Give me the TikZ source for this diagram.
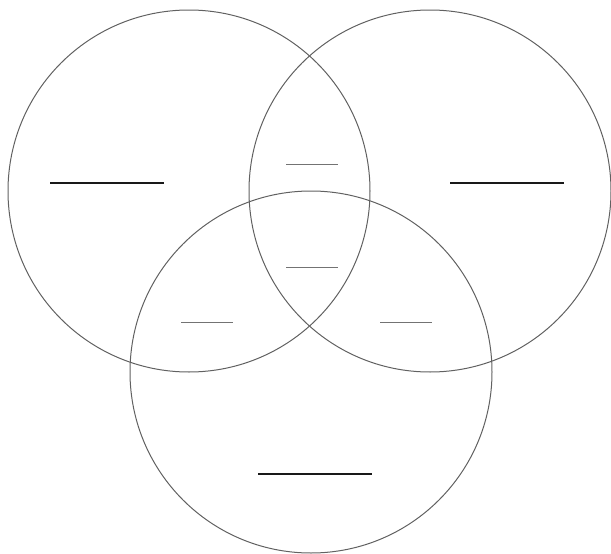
\documentclass[tikz,border=0pt]{standalone}
\begin{document}
\begin{tikzpicture}[
    x=1pt,y=-1pt,
    conjunto/.style={circle,draw=black!62,line width=1pt,inner sep=0pt,minimum size=362pt},
    raya/.style={line width=1.8pt,black!90},
    rayita/.style={line width=1pt,black!55}]

  \useasboundingbox (0,0) rectangle (611,554);

  %% ============================== conjuntos ================================
  \node[conjunto] (izq) at (189,191) {};
  \node[conjunto] (der) at (430,191) {};
  \node[conjunto] (abj) at (311,372) {};

  %% ================================ rayas ==================================
  \foreach \n/\x/\y in {a/50/183, b/450/183, c/258/474} {
    \coordinate (r\n) at (\x,\y);
    \draw[raya] (r\n) -- ++(114,0);
  }
  \foreach \n/\x/\y in {a/286/164, b/286/267, c/181/322, d/380/322} {
    \coordinate (s\n) at (\x,\y);
    \draw[rayita] (s\n) -- ++(52,0);
  }

\end{tikzpicture}
\end{document}
